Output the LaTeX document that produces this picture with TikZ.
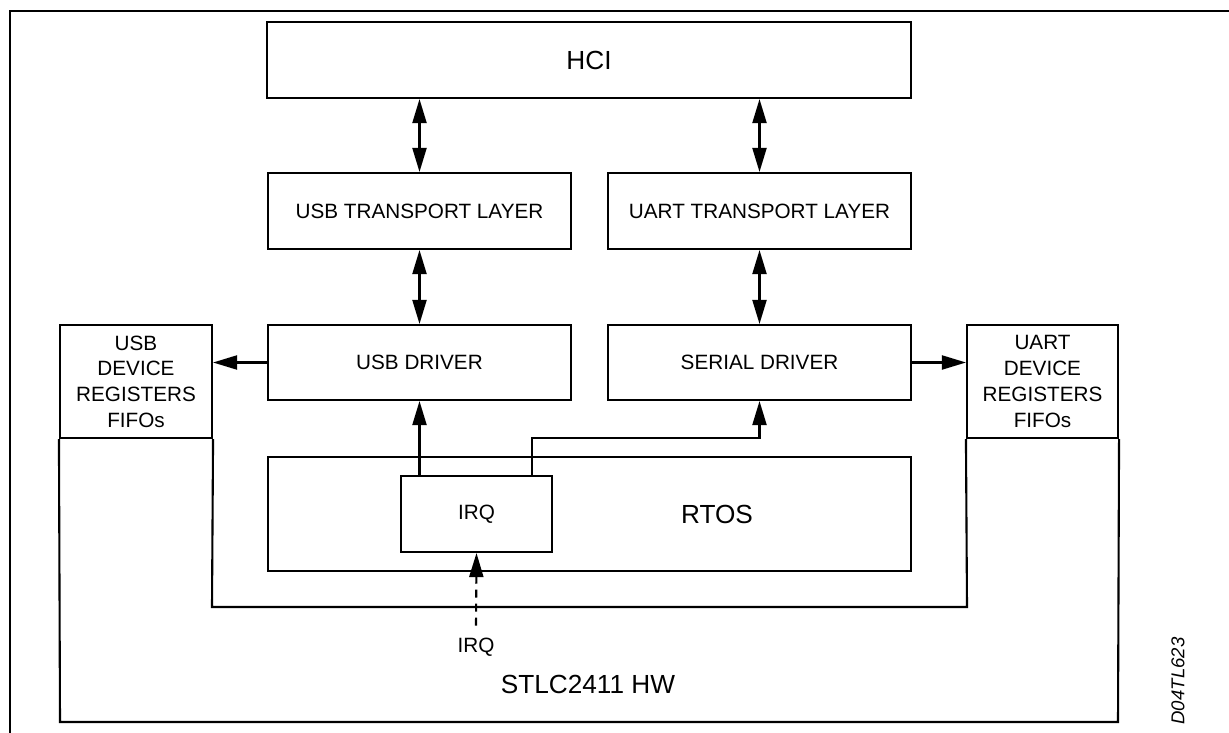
\documentclass[tikz,border=0pt]{standalone}
\usepackage{fontspec}
\setmainfont{Liberation Sans}
\usetikzlibrary{arrows.meta}
\tikzset{
  blk/.style={draw, line width=2.1pt, rectangle, inner sep=0pt, align=center,
    font=\fontsize{20.7}{25.7}\selectfont},
  bigtxt/.style={font=\fontsize{26.2}{30}\selectfont, inner sep=0pt},
  smalltxt/.style={font=\fontsize{20.7}{25.7}\selectfont, inner sep=0pt},
  wire/.style={line width=2.1pt},
  tip/.style={-{Triangle[length=24pt,width=14pt]}},
  dtip/.style={{Triangle[length=24pt,width=14pt]}-{Triangle[length=24pt,width=14pt]}},
}
\begin{document}
\begin{tikzpicture}[x=1pt,y=-1pt]
\useasboundingbox (0,0) rectangle (1229,733);
% frame
\draw[line width=2.5pt] (10,733) -- (10,11) -- (1229,11);

% boxes
\node[blk, minimum width=644pt, minimum height=76pt] (hci) at (589,60) {};
\node[bigtxt] (hcil) at (589,60) {HCI};
\node[blk, minimum width=303pt, minimum height=76pt] (usbtl) at (419.5,211) {USB TRANSPORT LAYER};
\node[blk, minimum width=303pt, minimum height=76pt] (uarttl) at (759.5,211) {UART TRANSPORT LAYER};
\node[blk, minimum width=303pt, minimum height=75pt] (usbdrv) at (419.5,362.5) {USB DRIVER};
\node[blk, minimum width=303pt, minimum height=75pt] (serdrv) at (759.5,362.5) {SERIAL DRIVER};
\node[blk, minimum width=643pt, minimum height=114pt] (rtos) at (589.5,514) {};
\node[bigtxt] (rtosl) at (717,514) {RTOS};
\node[blk, fill=white, minimum width=151pt, minimum height=76pt] (irq) at (476.5,514) {IRQ};
\node[blk, minimum width=152pt, minimum height=113pt] (usbdev) at (136,381.5) {USB\\DEVICE\\REGISTERS\\FIFOs};
\node[blk, minimum width=151pt, minimum height=113pt] (uartdev) at (1042.5,381.5) {UART\\DEVICE\\REGISTERS\\FIFOs};

% hardware outline
\coordinate (hwbl) at (60,722);
\coordinate (hwbr) at (1118,722);
\coordinate (inbl) at (212,607);
\coordinate (inbr) at (967,607);
\draw[wire] (usbdev.south west) -- (hwbl) -- (hwbr) -- (uartdev.south east);
\draw[wire] (usbdev.south east) -- (inbl) -- (inbr) -- (uartdev.south west);
\node[bigtxt] (hw) at (588,684) {STLC2411 HW};
\node[smalltxt] (irqin) at (476,647) {IRQ};
\node[font=\fontsize{18.6}{20}\selectfont\itshape, inner sep=0pt, rotate=90] (code) at (1178,681) {D04TL623};

% connectors
\draw[wire, dtip] (usbtl.north) -- (usbtl.north |- hci.south);
\draw[wire, dtip] (uarttl.north) -- (uarttl.north |- hci.south);
\draw[wire, dtip] (usbdrv.north) -- (usbtl.south);
\draw[wire, dtip] (serdrv.north) -- (uarttl.south);
\draw[wire, tip] (usbdrv.west) -- (usbdrv.west -| usbdev.east);
\draw[wire, tip] (serdrv.east) -- (serdrv.east -| uartdev.west);
\draw[wire, tip] (usbdrv.south |- irq.north) -- (usbdrv.south);
\coordinate (irqr) at (532,476);
\coordinate (bend) at (532,438);
\draw[wire, tip] (irqr) -- (bend) -- (bend -| serdrv.south) -- (serdrv.south);
\draw[wire, tip, dash pattern=on 8pt off 6pt] (irqin.north) ++(0,-12) -- (irq.south);
\end{tikzpicture}
\end{document}
